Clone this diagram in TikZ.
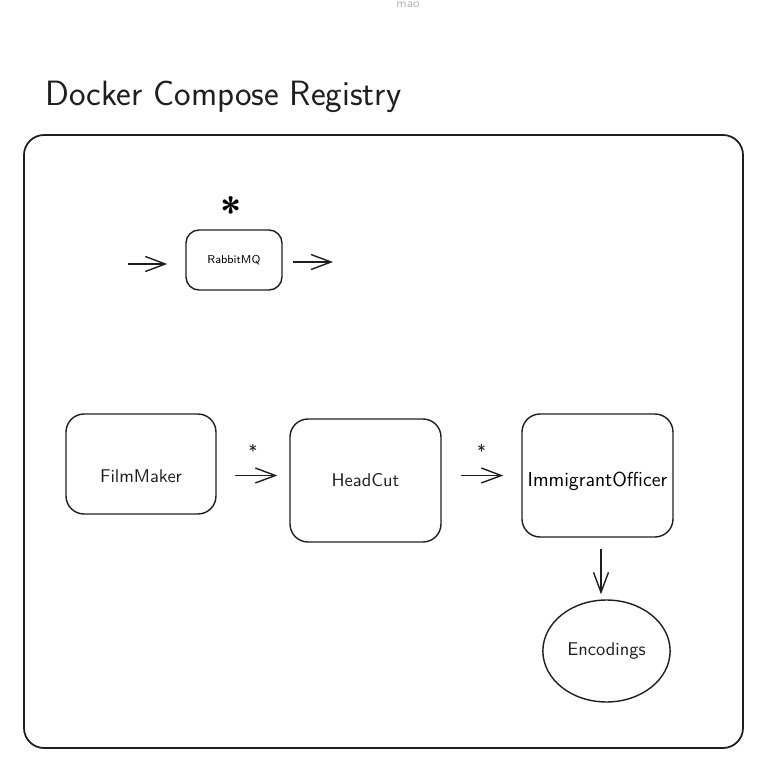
\documentclass[tikz,border=0pt]{standalone}
\usepackage[dvipsnames]{xcolor}
\usepackage{tikz}
\usetikzlibrary{positioning}
\usetikzlibrary{shapes,arrows.meta}
\definecolor{ink}{HTML}{1E1E1E}
\definecolor{faint}{HTML}{B4B4B4}
\tikzset{
  svc/.style={draw=ink,rounded corners=0.36cm,line width=0.8pt,inner sep=0pt,font=\sffamily\fontsize{10.5}{12}\selectfont\color{ink}},
  flow/.style={draw=ink,line width=0.8pt,-{Straight Barb[length=0.4cm,width=0.3cm]}},
  mark star/.style={font=\sffamily\color{ink},inner sep=0pt}
}
\begin{document}
\begin{tikzpicture}[x=0.02cm,y=-0.02cm]
\useasboundingbox (0,0) rectangle (779,771);
\node[text=faint,font=\sffamily\fontsize{7}{8}\selectfont] (author) at (408,5) {mao};
\node[anchor=base west,inner sep=0pt,text=ink,font=\sffamily\fontsize{20}{24}\selectfont] (title) at (45,105) {Docker Compose Registry};
\draw[ink,line width=1pt,rounded corners=0.4cm] (24,135) rectangle (743,748);
\node[svc,minimum width=1.92cm,minimum height=1.2cm,rounded corners=0.26cm,font=\sffamily\fontsize{6.5}{7}\selectfont] (mq) at (234,260) {RabbitMQ};
\node[mark star,font=\sffamily\bfseries\fontsize{22}{24}\selectfont] (mqstar) at (231,211) {*};
\coordinate (mqin) at (128,264);
\coordinate (mqout) at (333,262);
\draw[flow,shorten >=0.36cm] (mqin) -- (mq.west |- mqin);
\draw[flow,shorten <=0.2cm] (mq.east |- mqout) -- (mqout);
\node[svc,minimum width=3cm,minimum height=2cm] (film) at (141,464) {\raisebox{-0.36cm}[0pt][0pt]{FilmMaker}};
\node[svc,minimum width=3.02cm,minimum height=2.46cm] (head) at (365.5,480.5) {HeadCut};
\node[svc,minimum width=3.02cm,minimum height=2.46cm,font=\sffamily\fontsize{11.5}{13}\selectfont] (imm) at (597.5,475.5) {\raisebox{-0.22cm}[0pt][0pt]{ImmigrantOfficer}};
\node[draw=ink,line width=0.8pt,ellipse,minimum width=2.54cm,minimum height=2.04cm,font=\sffamily\fontsize{10.5}{12}\selectfont\color{ink}] (enc) at (606.5,651) {Encodings};
\draw[flow,shorten <=0.36cm,shorten >=0.24cm] (film.east |- imm.west) -- (head.west |- imm.west) node[mark star,midway,yshift=0.5cm] (fstar) {*};
\draw[flow,shorten <=0.38cm,shorten >=0.36cm] (head.east |- imm.west) -- (imm.west) node[mark star,midway,yshift=0.5cm] (hstar) {*};
\draw[flow,shorten <=0.22cm,shorten >=0.1cm] ([xshift=0.07cm]imm.south) -- ([xshift=0.07cm]imm.south |- enc.north);
\end{tikzpicture}
\end{document}
